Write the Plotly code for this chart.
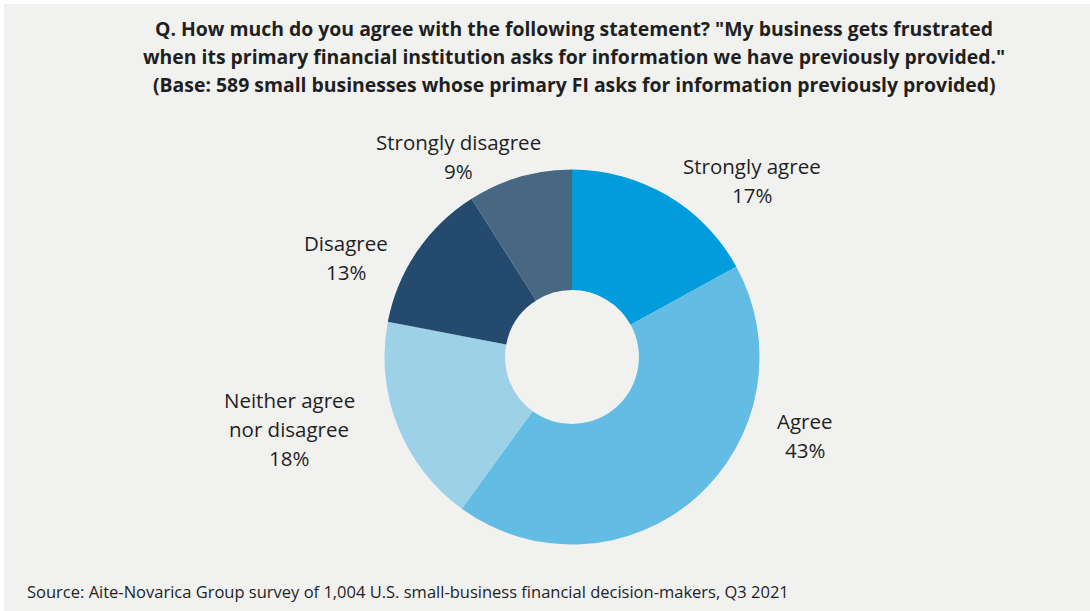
import plotly.graph_objects as go

# Survey responses, clockwise from 12 o'clock
categories = ["Strongly agree", "Agree", "Neither agree nor disagree", "Disagree", "Strongly disagree"]
label_lines = [["Strongly agree"], ["Agree"], ["Neither agree", "nor disagree"], ["Disagree"], ["Strongly disagree"]]
shares = [17, 43, 18, 13, 9]

slice_colors = ["#009CDC", "#62BCE3", "#9CD1E8", "#244A6E", "#486782"]

W, H = 1090, 611
BG = "#F1F1EF"
FONT = "Open Sans"
TEXT = "#1f1f1f"

# donut geometry in pixels
cx, cy, r = 572, 357, 187.5

fig = go.Figure(
    go.Pie(
        labels=categories,
        values=shares,
        hole=0.357,
        sort=False,
        direction="clockwise",
        rotation=0,
        marker=dict(colors=slice_colors, line=dict(width=0)),
        textinfo="none",
        hoverinfo="label+percent",
        domain=dict(x=[(cx - r) / W, (cx + r) / W], y=[1 - (cy + r) / H, 1 - (cy - r) / H]),
        showlegend=False,
    )
)

annotations = []

# chart title, one annotation per line for tight spacing
title_lines = [
    'Q. How much do you agree with the following statement? "My business gets frustrated',
    'when its primary financial institution asks for information we have previously provided."',
    "(Base: 589 small businesses whose primary FI asks for information previously provided)",
]
for i, line in enumerate(title_lines):
    annotations.append(dict(
        text=f"<b>{line}</b>", x=574 / W, y=1 - (29 + 28 * i) / H, xref="paper", yref="paper",
        xanchor="center", yanchor="middle", showarrow=False,
        font=dict(family=FONT, size=19.4, color=TEXT),
    ))

# slice labels: category name lines followed by the share
label_centers = [(752, 166), (805, 421), (289, 400), (346, 243), (458, 142)]
for lines, val, (lx, ly) in zip(label_lines, shares, label_centers):
    for j, t in enumerate(lines + [f"{val}%"]):
        annotations.append(dict(
            text=t, x=lx / W, y=1 - (ly + 29 * j) / H, xref="paper", yref="paper",
            xanchor="center", yanchor="middle", showarrow=False,
            font=dict(family=FONT, size=20.5, color=TEXT),
        ))

annotations.append(dict(
    text="Source: Aite-Novarica Group survey of 1,004 U.S. small-business financial decision-makers, Q3 2021",
    x=25 / W, y=1 - 591 / H, xref="paper", yref="paper",
    xanchor="left", yanchor="middle", showarrow=False,
    font=dict(family=FONT, size=16.5, color=TEXT),
))

fig.update_layout(
    width=W, height=H,
    margin=dict(l=0, r=0, t=0, b=0),
    paper_bgcolor="white",
    plot_bgcolor=BG,
    annotations=annotations,
    shapes=[dict(type="rect", xref="paper", yref="paper", x0=4 / W, x1=1, y0=0, y1=1 - 4 / H,
                 fillcolor=BG, line=dict(width=0), layer="below")],
)

fig.write_html("out.html")
